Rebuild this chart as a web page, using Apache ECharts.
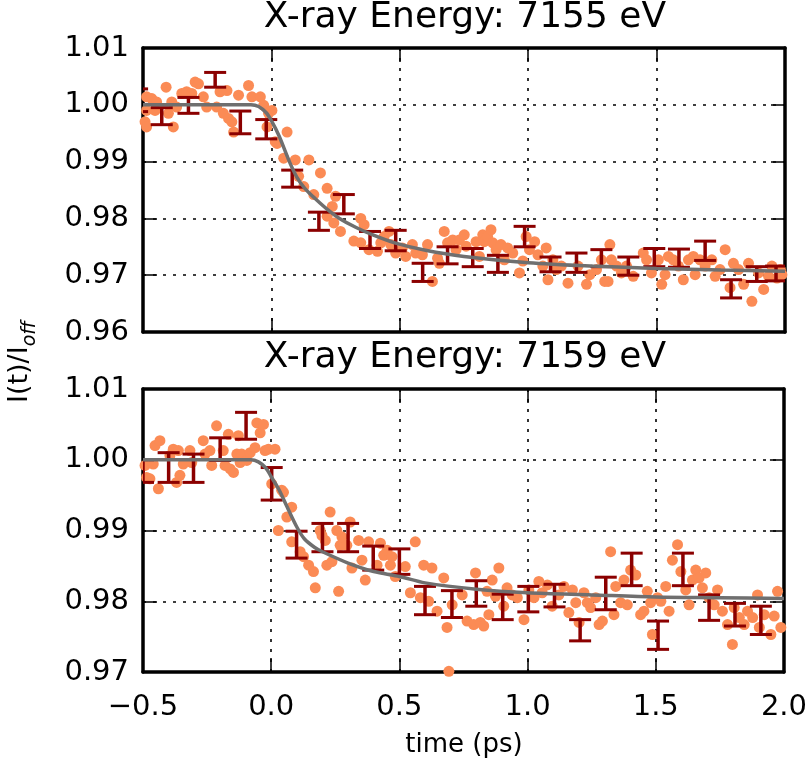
<!DOCTYPE html>
<html>
<head>
<meta charset="utf-8">
<script src="https://cdn.jsdelivr.net/npm/echarts@6/dist/echarts.min.js"></script>
<style>
  html, body { margin: 0; padding: 0; background: #fff; }
  #chart { width: 810px; height: 773px; }
</style>
</head>
<body>
<div id="chart"></div>
<script>
// ---- data ----
// 7155 eV panel: raw points
var t7155 = [-0.492, -0.486, -0.486, -0.486, -0.466, -0.453, -0.447, -0.410, -0.401, -0.388, -0.382, -0.369, -0.349, -0.330, -0.310, -0.297, -0.284, -0.265, -0.252, -0.213, -0.200, -0.187, -0.173, -0.167, -0.154, -0.147, -0.128, -0.089, -0.076, -0.043, -0.030, -0.017, -0.011, 0.002, 0.015, 0.022, 0.048, 0.061, 0.093, 0.106, 0.126, 0.146, 0.165, 0.191, 0.217, 0.217, 0.237, 0.243, 0.250, 0.269, 0.321,
  0.348, 0.348, 0.361, 0.380, 0.413, 0.426, 0.439, 0.458, 0.465, 0.484, 0.510, 0.523, 0.549, 0.562, 0.588, 0.608, 0.627, 0.647, 0.654, 0.673, 0.686, 0.706, 0.719, 0.732, 0.751, 0.758, 0.797, 0.810, 0.823, 0.829, 0.842, 0.855, 0.862, 0.875, 0.894, 0.907, 0.920, 0.940, 0.966, 0.979, 0.992, 1.005, 1.025, 1.038, 1.057, 1.070, 1.077, 1.096, 1.109, 1.129, 1.155,
  1.194, 1.227, 1.240, 1.266, 1.285, 1.298, 1.311, 1.318, 1.324, 1.344, 1.363, 1.383, 1.409, 1.448, 1.461, 1.480, 1.507, 1.520, 1.533, 1.546, 1.565, 1.585, 1.604, 1.624, 1.643, 1.650, 1.669, 1.689, 1.715, 1.728, 1.747, 1.767, 1.786, 1.799, 1.819, 1.839, 1.858, 1.871, 1.897, 1.917, 1.936, 1.949, 1.969, 1.982, 1.988];
var v7155 = [0.9970, 1.0014, 0.9990, 0.9961, 1.0011, 0.9990, 1.0005, 1.0031, 0.9985, 1.0005, 0.9961, 0.9996, 1.0020, 1.0023, 1.0020, 1.0040, 1.0037, 1.0014, 0.9996, 0.9996, 1.0023, 0.9985, 1.0025, 0.9976, 0.9970, 0.9952, 1.0017, 1.0034, 1.0014, 1.0014, 0.9999, 0.9961, 0.9985, 0.9990, 0.9935, 0.9932, 0.9906, 0.9952, 0.9903, 0.9874, 0.9856, 0.9903, 0.9842, 0.9880, 0.9853, 0.9804, 0.9821, 0.9792, 0.9839, 0.9777, 0.9760,
  0.9800, 0.9757, 0.9789, 0.9745, 0.9742, 0.9757, 0.9768, 0.9777, 0.9754, 0.9739, 0.9748, 0.9733, 0.9754, 0.9739, 0.9736, 0.9754, 0.9689, 0.9730, 0.9721, 0.9777, 0.9757, 0.9762, 0.9745, 0.9762, 0.9771, 0.9751, 0.9759, 0.9733, 0.9771, 0.9759, 0.9768, 0.9780, 0.9757, 0.9745, 0.9754, 0.9727, 0.9748, 0.9739, 0.9704, 0.9725, 0.9768, 0.9745, 0.9759, 0.9736, 0.9716, 0.9748, 0.9692, 0.9727, 0.9710, 0.9716, 0.9686,
  0.9716, 0.9684, 0.9701, 0.9710, 0.9727, 0.9689, 0.9689, 0.9754, 0.9727, 0.9716, 0.9704, 0.9716, 0.9698, 0.9739, 0.9727, 0.9704, 0.9727, 0.9684, 0.9701, 0.9733, 0.9727, 0.9716, 0.9692, 0.9727, 0.9733, 0.9701, 0.9727, 0.9716, 0.9727, 0.9698, 0.9710, 0.9745, 0.9678, 0.9721, 0.9710, 0.9684, 0.9721, 0.9654, 0.9704, 0.9675, 0.9698, 0.9716, 0.9695, 0.9710, 0.9701];
// 7155 eV panel: binned points with error bars
var barT7155 = [-0.523, -0.427, -0.323, -0.219, -0.121, -0.020, 0.081, 0.185, 0.282, 0.384, 0.484, 0.589, 0.686, 0.784, 0.882, 0.986, 1.087, 1.188, 1.285, 1.390, 1.491, 1.587, 1.689, 1.790, 1.890, 1.965];
var barV7155 = [1.0008, 0.9980, 0.9999, 1.0044, 0.9969, 0.9957, 0.9870, 0.9795, 0.9825, 0.9762, 0.9761, 0.9705, 0.9735, 0.9731, 0.9720, 0.9768, 0.9719, 0.9722, 0.9730, 0.9716, 0.9731, 0.9730, 0.9743, 0.9676, 0.9702, 0.9703];
var barE7155 = [0.0020, 0.0015, 0.0014, 0.0013, 0.0020, 0.0017, 0.0015, 0.0016, 0.0017, 0.0015, 0.0018, 0.0016, 0.0015, 0.0016, 0.0015, 0.0018, 0.0013, 0.0017, 0.0015, 0.0016, 0.0016, 0.0016, 0.0017, 0.0016, 0.0013, 0.0013];
// 7155 eV panel: fit curve
var fitT7155 = [-0.5, -0.08, -0.05, -0.02, 0.0, 0.03, 0.07, 0.10, 0.13, 0.17, 0.22, 0.265, 0.33, 0.40, 0.48, 0.60, 0.75, 1.0, 1.25, 1.5, 1.75, 2.0];
var fitV7155 = [1.0000, 1.0000, 0.9997, 0.9986, 0.9972, 0.9945, 0.9900, 0.9872, 0.9853, 0.9835, 0.9815, 0.9800, 0.9784, 0.9770, 0.9757, 0.9744, 0.9733, 0.9722, 0.9716, 0.9712, 0.9709, 0.9707];

// 7159 eV panel: raw points
var t7159 = [-0.492, -0.486, -0.473, -0.460, -0.453, -0.440, -0.434, -0.395, -0.382, -0.369, -0.362, -0.356, -0.343, -0.317, -0.310, -0.265, -0.258, -0.239, -0.232, -0.213, -0.187, -0.180, -0.167, -0.160, -0.147, -0.134, -0.128, -0.121, -0.115, -0.095, -0.082, -0.063, -0.056, -0.043, -0.030, -0.024, -0.011, 0.002, 0.015, 0.028, 0.041, 0.048, 0.061, 0.080, 0.080, 0.113, 0.126, 0.146, 0.165, 0.172, 0.191, 0.198, 0.211, 0.217, 0.230, 0.237, 0.256, 0.263, 0.269, 0.276, 0.295, 0.308, 0.315,
  0.341, 0.354, 0.367, 0.380, 0.413, 0.426, 0.439, 0.452, 0.465, 0.471, 0.484, 0.523, 0.543, 0.562, 0.582, 0.595, 0.614, 0.627, 0.647, 0.673, 0.686, 0.693, 0.706, 0.745, 0.764, 0.790, 0.797, 0.816, 0.829, 0.842, 0.849, 0.862, 0.875, 0.888, 0.907, 0.920, 0.940, 0.960, 0.986, 1.005, 1.025, 1.044, 1.057, 1.077, 1.096, 1.122, 1.142, 1.161,
  1.175, 1.188, 1.201, 1.220, 1.233, 1.246, 1.266, 1.279, 1.292, 1.324, 1.337, 1.344, 1.363, 1.376, 1.389, 1.402, 1.422, 1.441, 1.454, 1.467, 1.480, 1.487, 1.507, 1.520, 1.539, 1.552, 1.565, 1.585, 1.598, 1.617, 1.630, 1.643, 1.656, 1.669, 1.682, 1.695, 1.708, 1.728, 1.741, 1.760, 1.780, 1.799, 1.806, 1.826, 1.845, 1.858, 1.878, 1.897, 1.904, 1.923, 1.949, 1.962, 1.975, 1.988];
var v7159 = [0.9992, 0.9975, 0.9973, 0.9994, 1.0020, 0.9959, 1.0027, 1.0006, 1.0015, 0.9968, 1.0013, 0.9978, 0.9994, 1.0013, 0.9996, 1.0027, 1.0008, 1.0013, 0.9992, 1.0048, 1.0013, 0.9992, 1.0036, 0.9987, 0.9982, 1.0008, 1.0034, 0.9996, 1.0008, 0.9999, 1.0010, 1.0017, 1.0052, 1.0038, 1.0050, 1.0013, 1.0015, 0.9966, 1.0015, 0.9900, 0.9957, 0.9954, 0.9919, 0.9933, 0.9884, 0.9870, 0.9863, 0.9851, 0.9842, 0.9819, 0.9900, 0.9893, 0.9886, 0.9851, 0.9926, 0.9856, 0.9900, 0.9814, 0.9879, 0.9891, 0.9879, 0.9912, 0.9847,
  0.9886, 0.9858, 0.9830, 0.9884, 0.9851, 0.9882, 0.9865, 0.9872, 0.9851, 0.9863, 0.9835, 0.9849, 0.9812, 0.9884, 0.9805, 0.9851, 0.9800, 0.9847, 0.9786, 0.9833, 0.9763, 0.9701, 0.9795, 0.9809, 0.9772, 0.9767, 0.9840, 0.9770, 0.9765, 0.9814, 0.9781, 0.9830, 0.9807, 0.9847, 0.9793, 0.9819, 0.9809, 0.9805, 0.9774, 0.9816, 0.9805, 0.9828, 0.9812, 0.9823, 0.9793, 0.9809, 0.9821, 0.9784,
  0.9816, 0.9798, 0.9770, 0.9812, 0.9798, 0.9791, 0.9805, 0.9767, 0.9772, 0.9870, 0.9781, 0.9821, 0.9798, 0.9830, 0.9795, 0.9844, 0.9837, 0.9781, 0.9786, 0.9814, 0.9798, 0.9753, 0.9805, 0.9800, 0.9821, 0.9786, 0.9858, 0.9880, 0.9842, 0.9816, 0.9795, 0.9830, 0.9844, 0.9833, 0.9819, 0.9840, 0.9805, 0.9795, 0.9816, 0.9786, 0.9767, 0.9739, 0.9791, 0.9777, 0.9767, 0.9786, 0.9777, 0.9809, 0.9763, 0.9781, 0.9753, 0.9779, 0.9814, 0.9763];
// 7159 eV panel: binned points with error bars
var barT7159 = [-0.500, -0.400, -0.303, -0.199, -0.098, 0.002, 0.099, 0.200, 0.300, 0.398, 0.500, 0.600, 0.705, 0.800, 0.903, 1.003, 1.105, 1.205, 1.305, 1.406, 1.509, 1.606, 1.708, 1.809, 1.910];
var barV7159 = [0.9984, 0.9989, 0.9988, 1.0015, 1.0048, 0.9966, 0.9880, 0.9890, 0.9890, 0.9861, 0.9856, 0.9801, 0.9796, 0.9811, 0.9792, 0.9803, 0.9808, 0.9759, 0.9811, 0.9845, 0.9752, 0.9845, 0.9791, 0.9781, 0.9773];
var barE7159 = [0.0016, 0.0021, 0.0020, 0.0016, 0.0019, 0.0023, 0.0019, 0.0020, 0.0020, 0.0017, 0.0018, 0.0020, 0.0019, 0.0018, 0.0018, 0.0018, 0.0016, 0.0015, 0.0023, 0.0023, 0.0020, 0.0023, 0.0018, 0.0016, 0.0020];
// 7159 eV panel: fit curve
var fitT7159 = [-0.5, -0.08, -0.05, -0.02, 0.0, 0.03, 0.06, 0.10, 0.13, 0.17, 0.2, 0.3, 0.4, 0.5, 0.6, 0.8, 1.0, 1.25, 1.5, 1.75, 2.0];
var fitV7159 = [1.0000, 1.0000, 0.9997, 0.9988, 0.9976, 0.9958, 0.9935, 0.9905, 0.9888, 0.9876, 0.9870, 0.9854, 0.9842, 0.9835, 0.9826, 0.9817, 0.9812, 0.9809, 0.9806, 0.9805, 0.9804];

var titles = ['X-ray Energy: 7155 eV', 'X-ray Energy: 7159 eV'];

// ---- helpers ----
var FONT = "'DejaVu Sans', sans-serif";

function pairs(xs, ys) {
  var out = [];
  for (var i = 0; i < xs.length; i++) out.push([xs[i], ys[i]]);
  return out;
}

function bars(xs, ys, es) {
  var out = [];
  for (var i = 0; i < xs.length; i++) out.push([xs[i], ys[i] - es[i], ys[i] + es[i]]);
  return out;
}

// error bar: vertical stroke with caps
function renderErr(params, api) {
  var lo = api.coord([api.value(0), api.value(1)]);
  var hi = api.coord([api.value(0), api.value(2)]);
  var hw = 11;
  var st = {stroke: '#8b0000', lineWidth: 3};
  return {
    type: 'group',
    children: [
      {type: 'line', shape: {x1: hi[0], y1: hi[1], x2: lo[0], y2: lo[1]}, style: {stroke: '#8b0000', lineWidth: 3.5}},
      {type: 'line', shape: {x1: hi[0] - hw, y1: hi[1], x2: hi[0] + hw, y2: hi[1]}, style: st},
      {type: 'line', shape: {x1: lo[0] - hw, y1: lo[1], x2: lo[0] + hw, y2: lo[1]}, style: st}
    ]
  };
}

var frameLine = {show: true, onZero: false, lineStyle: {color: '#000', width: 3.5}};
var tickIn = {show: true, inside: true, length: 14, lineStyle: {color: '#000', width: 1.5}};
var gridDots = {show: true, lineStyle: {color: '#000', width: 1.6, type: [3, 7]}};

function xAxes(gi, showLabels) {
  return [
    {
      type: 'value', gridIndex: gi, position: 'bottom', min: -0.5, max: 2.0, interval: 0.5,
      axisLine: frameLine, axisTick: tickIn, splitLine: gridDots,
      axisLabel: {
        show: showLabels, color: '#000', fontSize: 29, fontFamily: FONT, margin: 21,
        formatter: function (v) { return v.toFixed(1).replace('-', '\u2212'); }
      }
    },
    {
      type: 'value', gridIndex: gi, position: 'top', min: -0.5, max: 2.0, interval: 0.5,
      axisLine: frameLine, axisTick: tickIn, splitLine: {show: false}, axisLabel: {show: false}
    }
  ];
}

function yAxes(gi, lo, hi) {
  return [
    {
      type: 'value', gridIndex: gi, position: 'left', min: lo, max: hi, interval: 0.01,
      axisLine: frameLine, axisTick: tickIn, splitLine: gridDots,
      axisLabel: {
        color: '#000', fontSize: 29, fontFamily: FONT, margin: 14,
        formatter: function (v) { return v.toFixed(2); }
      }
    },
    {
      type: 'value', gridIndex: gi, position: 'right', min: lo, max: hi, interval: 0.01,
      axisLine: frameLine, axisTick: tickIn, splitLine: {show: false}, axisLabel: {show: false}
    }
  ];
}

function panelSeries(ax, dotsT, dotsV, bT, bV, bE, fT, fV) {
  return [
    {
      type: 'scatter', xAxisIndex: ax, yAxisIndex: ax, data: pairs(dotsT, dotsV),
      symbolSize: 11, itemStyle: {color: '#fb8b55', opacity: 1}, silent: true, z: 2
    },
    {
      type: 'custom', xAxisIndex: ax, yAxisIndex: ax, data: bars(bT, bV, bE),
      renderItem: renderErr, encode: {x: 0, y: [1, 2]}, clip: true, silent: true, z: 3
    },
    {
      type: 'line', xAxisIndex: ax, yAxisIndex: ax, data: pairs(fT, fV),
      smooth: 0.3, showSymbol: false, lineStyle: {color: '#6f6f6f', width: 3.5}, silent: true, z: 4
    }
  ];
}

var myChart = echarts.init(document.getElementById('chart'), null, {renderer: 'canvas'});

var option = {
  animation: false,
  backgroundColor: '#fff',
  grid: [
    {left: 143, top: 48, width: 642, height: 284},
    {left: 143, top: 389, width: 642, height: 283}
  ],
  xAxis: xAxes(0, false).concat(xAxes(1, true)),
  yAxis: yAxes(0, 0.96, 1.01).concat(yAxes(1, 0.97, 1.01)),
  series: panelSeries(0, t7155, v7155, barT7155, barV7155, barE7155, fitT7155, fitV7155)
    .concat(panelSeries(2, t7159, v7159, barT7159, barV7159, barE7159, fitT7159, fitV7159)),
  graphic: [
    {type: 'text', x: 465, y: 18, style: {text: titles[0], font: '36px ' + FONT, fill: '#000', textAlign: 'center', textVerticalAlign: 'middle'}},
    {type: 'text', x: 465, y: 358, style: {text: titles[1], font: '36px ' + FONT, fill: '#000', textAlign: 'center', textVerticalAlign: 'middle'}},
    {type: 'text', x: 464, y: 745, style: {text: 'time (ps)', font: '26px ' + FONT, fill: '#000', textAlign: 'center', textVerticalAlign: 'middle'}},
    {
      type: 'text', x: 20, y: 362, rotation: Math.PI / 2,
      style: {
        text: '{m|I(t)/I}{s|off}', fill: '#000', textAlign: 'center', textVerticalAlign: 'middle',
        rich: {
          m: {fontSize: 27, fontFamily: FONT, lineHeight: 34, verticalAlign: 'middle'},
          s: {fontSize: 19, fontFamily: FONT, fontStyle: 'italic', lineHeight: 40, verticalAlign: 'bottom'}
        }
      }
    }
  ]
};

myChart.setOption(option);
</script>
</body>
</html>
